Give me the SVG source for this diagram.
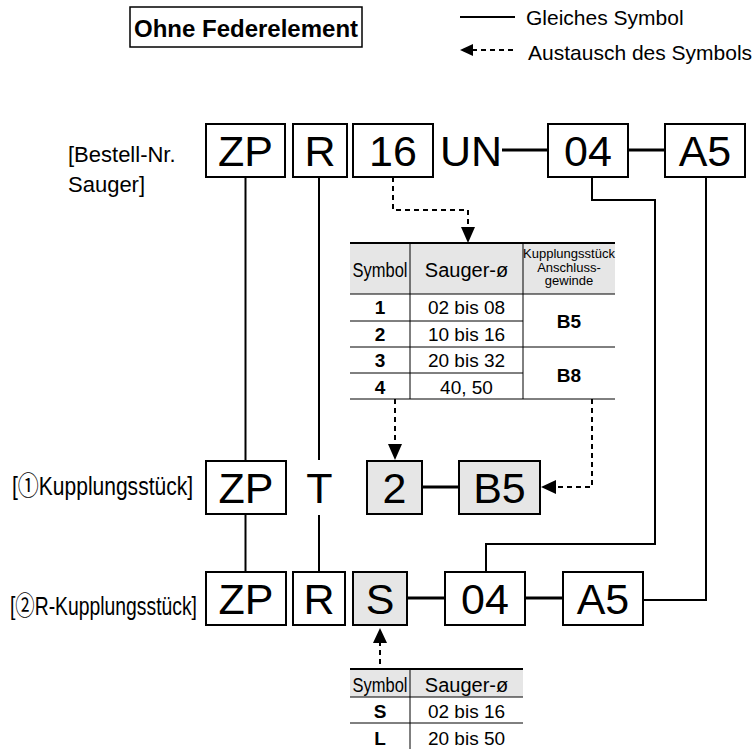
<svg xmlns="http://www.w3.org/2000/svg" width="756" height="749" viewBox="0 0 756 749">
<style>
text{font-family:"Liberation Sans","Noto Sans CJK JP",Arial,sans-serif;fill:#000}
.box{fill:#fff;stroke:#000;stroke-width:2}
.gbox{fill:#e6e6e6;stroke:#000;stroke-width:2}
.big{font-size:43px;text-anchor:middle}
.lbl{font-size:22px}
.conn{fill:none;stroke:#000;stroke-width:2}
.thick{fill:none;stroke:#000;stroke-width:3}
.dash{fill:none;stroke:#000;stroke-width:2;stroke-dasharray:5 4}
.tl{stroke:#000;stroke-width:1}
.td{font-size:19px;text-anchor:middle}
.tb{font-size:19px;text-anchor:middle;font-weight:bold}
.th{font-size:20px;text-anchor:middle}
.hs{font-size:16.5px;text-anchor:middle}
.kh{font-size:13px;text-anchor:middle}
.hdr{fill:#e6e6e6}
</style>

<g id="title">
<rect x="130" y="7" width="232" height="40" fill="#fff" stroke="#000" stroke-width="1.5"/>
<text x="246" y="37" font-size="24" font-weight="bold" text-anchor="middle">Ohne Federelement</text>
</g>

<g id="legend">
<line x1="460" y1="17" x2="515" y2="17" stroke="#000" stroke-width="2"/>
<text x="526" y="25" font-size="21">Gleiches Symbol</text>
<line x1="472" y1="50" x2="515" y2="50" class="dash"/>
<polygon points="460,50 473,44 473,56" fill="#000"/>
<text x="528" y="60" font-size="21">Austausch des Symbols</text>
</g>

<g id="label-bestell">
<text x="68" y="162" class="lbl">[Bestell-Nr.</text>
<text x="68" y="192" class="lbl">Sauger]</text>
</g>
<g id="label-kupplung">
<text transform="translate(12,495) scale(1,1.24)" font-size="21" textLength="181" lengthAdjust="spacingAndGlyphs">[①Kupplungsstück]</text>
</g>
<g id="label-rkupplung">
<text transform="translate(10,615) scale(1,1.3)" font-size="20" textLength="187" lengthAdjust="spacingAndGlyphs">[②R-Kupplungsstück]</text>
</g>

<g id="connectors">
<line x1="502" y1="150" x2="548" y2="150" class="thick"/>
<line x1="628" y1="150" x2="665" y2="150" class="thick"/>
<line x1="422" y1="487" x2="459" y2="487" class="thick"/>
<line x1="407" y1="598" x2="445" y2="598" class="thick"/>
<line x1="525" y1="598" x2="563" y2="598" class="thick"/>
<line x1="245.5" y1="177" x2="245.5" y2="461" class="conn"/>
<line x1="245.5" y1="514" x2="245.5" y2="572" class="conn"/>
<line x1="319" y1="177" x2="319" y2="460" class="conn"/>
<line x1="319" y1="515" x2="319" y2="572" class="conn"/>
<polyline points="592,177 592,200 655,200 655,544 486,544 486,572" class="conn"/>
<polyline points="706,177 706,600 643,600" class="conn"/>
<polyline points="393,177 393,210 468,210 468,228" class="dash"/>
<polygon points="468,243 461,227 475,227" fill="#000"/>
<line x1="395" y1="399" x2="395" y2="446" class="dash"/>
<polygon points="395,460 388,444 402,444" fill="#000"/>
<polyline points="592,399 592,487 554,487" class="dash"/>
<polygon points="541,487 556,480 556,494" fill="#000"/>
<line x1="380" y1="641" x2="380" y2="669" class="dash"/>
<polygon points="380,628 373,643 387,643" fill="#000"/>
</g>

<g id="t-zp"><rect x="206" y="124" width="79" height="53" class="box"/><text x="245.5" y="166" class="big">ZP</text></g>
<g id="t-r"><rect x="293" y="124" width="54" height="53" class="box"/><text x="320" y="166" class="big">R</text></g>
<g id="t-16"><rect x="353" y="124" width="80" height="53" class="box"/><text x="393" y="166" class="big">16</text></g>
<g id="t-un"><text x="471" y="166" class="big">UN</text></g>
<g id="t-04"><rect x="548" y="124" width="80" height="53" class="box"/><text x="588" y="166" class="big">04</text></g>
<g id="t-a5"><rect x="665" y="124" width="80" height="53" class="box"/><text x="705" y="166" class="big">A5</text></g>

<g id="m-zp"><rect x="206" y="461" width="80" height="53" class="box"/><text x="246" y="503" class="big">ZP</text></g>
<g id="m-t"><text x="319.5" y="503" class="big">T</text></g>
<g id="m-2"><rect x="367" y="461" width="55" height="53" class="gbox"/><text x="394.5" y="503" class="big">2</text></g>
<g id="m-b5"><rect x="459" y="461" width="81" height="53" class="gbox"/><text x="499.5" y="503" class="big">B5</text></g>

<g id="b-zp"><rect x="206" y="572" width="80" height="53" class="box"/><text x="246" y="614" class="big">ZP</text></g>
<g id="b-r"><rect x="293" y="572" width="52" height="53" class="box"/><text x="319" y="614" class="big">R</text></g>
<g id="b-s"><rect x="353" y="572" width="54" height="53" class="gbox"/><text x="380" y="614" class="big">S</text></g>
<g id="b-04"><rect x="445" y="572" width="80" height="53" class="box"/><text x="485" y="614" class="big">04</text></g>
<g id="b-a5"><rect x="563" y="572" width="80" height="53" class="box"/><text x="603" y="614" class="big">A5</text></g>

<g id="table-size">
<rect x="350" y="243" width="265" height="51" class="hdr"/>
<line x1="350" y1="243" x2="615" y2="243" stroke="#000" stroke-width="2"/>
<line x1="350" y1="294" x2="615" y2="294" class="tl"/>
<line x1="350" y1="321" x2="523" y2="321" class="tl"/>
<line x1="350" y1="347" x2="615" y2="347" class="tl"/>
<line x1="350" y1="373" x2="523" y2="373" class="tl"/>
<line x1="350" y1="399" x2="615" y2="399" class="tl"/>
<line x1="410" y1="243" x2="410" y2="399" class="tl"/>
<line x1="523" y1="243" x2="523" y2="399" class="tl"/>
<text transform="translate(380,277) scale(1,1.2)" class="hs">Symbol</text>
<text x="466.5" y="277" class="th">Sauger-ø</text>
<text x="569" y="258" class="kh">Kupplungsstück</text>
<text x="569" y="271.5" class="kh">Anschluss-</text>
<text x="569" y="285" class="kh">gewinde</text>
<text x="380" y="314" class="tb">1</text>
<text x="466.5" y="314" class="td">02 bis 08</text>
<text x="380" y="341" class="tb">2</text>
<text x="466.5" y="341" class="td">10 bis 16</text>
<text x="380" y="367" class="tb">3</text>
<text x="466.5" y="367" class="td">20 bis 32</text>
<text x="380" y="394" class="tb">4</text>
<text x="466.5" y="394" class="td">40, 50</text>
<text x="569" y="328" class="tb">B5</text>
<text x="569" y="382" class="tb">B8</text>
</g>

<g id="table-type">
<rect x="350" y="669" width="173" height="28" class="hdr"/>
<line x1="350" y1="669" x2="523" y2="669" stroke="#000" stroke-width="2"/>
<line x1="350" y1="697" x2="523" y2="697" class="tl"/>
<line x1="350" y1="723" x2="523" y2="723" class="tl"/>
<line x1="410" y1="669" x2="410" y2="749" class="tl"/>
<text transform="translate(380,692) scale(1,1.2)" class="hs">Symbol</text>
<text x="466.5" y="692" class="th">Sauger-ø</text>
<text x="380" y="718" class="tb">S</text>
<text x="466.5" y="718" class="td">02 bis 16</text>
<text x="380" y="745" class="tb">L</text>
<text x="466.5" y="745" class="td">20 bis 50</text>
</g>
</svg>
